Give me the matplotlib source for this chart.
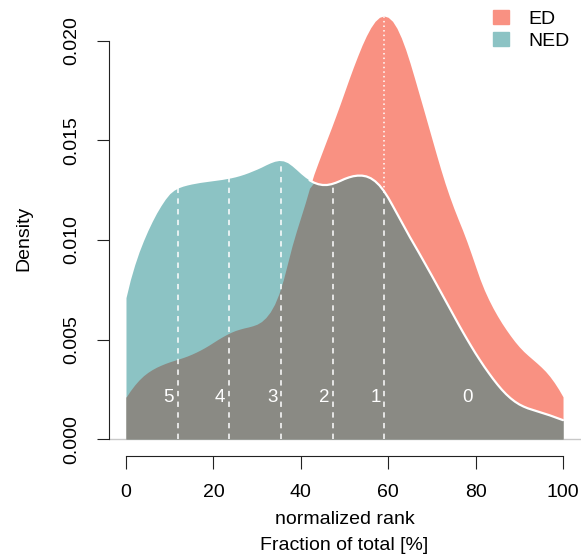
import matplotlib
matplotlib.use("Agg")
import matplotlib.pyplot as plt
import numpy as np
from matplotlib.patches import Patch

plt.rcParams["font.family"] = ["Liberation Sans", "DejaVu Sans"]

# normalized rank grid (percent, step 1) and densities
rank = list(range(0, 101))
ed_density = [
    0.00210, 0.00243, 0.00272, 0.00297, 0.00318, 0.00335, 0.00349, 0.00361, 0.00371, 0.00380,  # 0-9
    0.00388, 0.00395, 0.00402, 0.00409, 0.00417, 0.00426, 0.00436, 0.00447, 0.00459, 0.00472,  # 10-19
    0.00486, 0.00500, 0.00513, 0.00525, 0.00536, 0.00545, 0.00552, 0.00558, 0.00563, 0.00569,  # 20-29
    0.00577, 0.00590, 0.00610, 0.00638, 0.00677, 0.00730, 0.00800, 0.00885, 0.00970, 0.01045,  # 30-39
    0.01115, 0.01185, 0.01260, 0.01330, 0.01390, 0.01448, 0.01506, 0.01563, 0.01622, 0.01682,  # 40-49
    0.01744, 0.01806, 0.01866, 0.01923, 0.01977, 0.02025, 0.02066, 0.02098, 0.02118, 0.02125,  # 50-59
    0.02118, 0.02098, 0.02063, 0.02015, 0.01956, 0.01888, 0.01814, 0.01738, 0.01662, 0.01585,  # 60-69
    0.01508, 0.01431, 0.01356, 0.01285, 0.01220, 0.01160, 0.01104, 0.01050, 0.00992, 0.00930,  # 70-79
    0.00866, 0.00803, 0.00748, 0.00700, 0.00657, 0.00618, 0.00582, 0.00549, 0.00518, 0.00489,  # 80-89
    0.00463, 0.00440, 0.00420, 0.00401, 0.00382, 0.00362, 0.00340, 0.00314, 0.00284, 0.00250,  # 90-99
    0.00212,
]
ned_density = [
    0.00710, 0.00800, 0.00875, 0.00940, 0.00996, 0.01047, 0.01093, 0.01135, 0.01172, 0.01205,  # 0-9
    0.01232, 0.01250, 0.01262, 0.01270, 0.01276, 0.01281, 0.01285, 0.01289, 0.01292, 0.01295,  # 10-19
    0.01298, 0.01301, 0.01304, 0.01308, 0.01312, 0.01317, 0.01323, 0.01330, 0.01338, 0.01347,  # 20-29
    0.01356, 0.01366, 0.01377, 0.01387, 0.01395, 0.01399, 0.01397, 0.01388, 0.01372, 0.01353,  # 30-39
    0.01333, 0.01315, 0.01300, 0.01288, 0.01280, 0.01276, 0.01276, 0.01280, 0.01287, 0.01296,  # 40-49
    0.01306, 0.01314, 0.01320, 0.01323, 0.01323, 0.01319, 0.01310, 0.01295, 0.01274, 0.01246,  # 50-59
    0.01212, 0.01173, 0.01133, 0.01093, 0.01053, 0.01013, 0.00975, 0.00937, 0.00898, 0.00859,  # 60-69
    0.00820, 0.00780, 0.00740, 0.00700, 0.00660, 0.00620, 0.00580, 0.00541, 0.00503, 0.00466,  # 70-79
    0.00430, 0.00396, 0.00363, 0.00332, 0.00302, 0.00274, 0.00248, 0.00225, 0.00205, 0.00188,  # 80-89
    0.00174, 0.00163, 0.00154, 0.00147, 0.00140, 0.00133, 0.00126, 0.00119, 0.00111, 0.00103,  # 90-99
    0.00095,
]

# class boundaries and their labels
cut_positions = [11.8, 23.6, 35.5, 47.3, 59.1]
class_labels = ["5", "4", "3", "2", "1", "0"]
class_label_x = [9.7, 21.5, 33.5, 45.3, 57.2, 78.1]
class_label_y = 0.0021

ED_COLOR = "#F99182"
NED_COLOR = "#8CC3C4"
OVERLAP_COLOR = "#8A8A84"

W, H = 584, 558
fig = plt.figure(figsize=(W / 100, H / 100), dpi=100)
ax = fig.add_axes([108.5 / W, (H - 456) / H, 472 / W, 456 / H])

x = np.array(rank, dtype=float)
ed = np.array(ed_density)
ned = np.array(ned_density)

ax.axhline(0, color="#c8c8c8", lw=1.0, zorder=0)
ax.fill_between(x, 0, ed, color=ED_COLOR, lw=0, zorder=1)
ax.fill_between(x, 0, ned, color=NED_COLOR, lw=0, zorder=2)
ax.fill_between(x, 0, np.minimum(ed, ned), color=OVERLAP_COLOR, lw=0, zorder=3)

# white outline of NED where it sits under ED
start = np.argmax(ed >= ned) - 1
ax.plot(x[start:], ned[start:], color="white", lw=1.6, zorder=4,
        solid_capstyle="round", solid_joinstyle="round")

for cx in cut_positions:
    top = np.interp(cx, x, ned)
    ax.plot([cx, cx], [0, top], color="white", lw=1.1, ls=(0, (3.5, 3.5)), zorder=5)
peak_x = cut_positions[-1]
ax.plot([peak_x, peak_x], [np.interp(peak_x, x, ned), np.interp(peak_x, x, ed)],
        color="white", lw=1.1, ls=(0, (1, 2)), zorder=5)

for lx, lab in zip(class_label_x, class_labels):
    ax.text(lx, class_label_y, lab, color="white", fontsize=13.5,
            ha="center", va="center", zorder=6)

ax.set_xlim(-4, 104)
ax.set_ylim(-0.00085, 0.02205)
for side in ("top", "right"):
    ax.spines[side].set_visible(False)
ax.spines["left"].set_bounds(0, 0.02)
ax.spines["bottom"].set_bounds(0, 100)
for side in ("left", "bottom"):
    ax.spines[side].set_linewidth(0.8)
    ax.spines[side].set_color("#222222")

ax.set_xticks([0, 20, 40, 60, 80, 100])
ax.set_yticks([0.0, 0.005, 0.010, 0.015, 0.020])
ax.set_yticklabels(["0.000", "0.005", "0.010", "0.015", "0.020"],
                   rotation=90, va="center")
ax.tick_params(axis="both", direction="out", length=9, width=0.8,
               color="#222222", labelsize=14)
ax.tick_params(axis="x", pad=11)
ax.tick_params(axis="y", pad=11)

fig.text(344.5 / W, 1 - 520 / H, "normalized rank", fontsize=14,
         ha="center", va="center")
fig.text(344.5 / W, 1 - 545 / H, "Fraction of total [%]", fontsize=14,
         ha="center", va="center")
fig.text(24 / W, 1 - 238 / H, "Density", fontsize=14, rotation=90,
         ha="center", va="center")

handles = [Patch(color=ED_COLOR, label="ED"), Patch(color=NED_COLOR, label="NED")]
fig.legend(handles=handles, loc="upper left",
           bbox_to_anchor=(493 / W, 1 - 10 / H), frameon=False,
           fontsize=14, handlelength=0.8, handleheight=0.7,
           handletextpad=1.0, labelspacing=0.25, borderpad=0, borderaxespad=0)

fig.savefig("out.png", dpi=100)
